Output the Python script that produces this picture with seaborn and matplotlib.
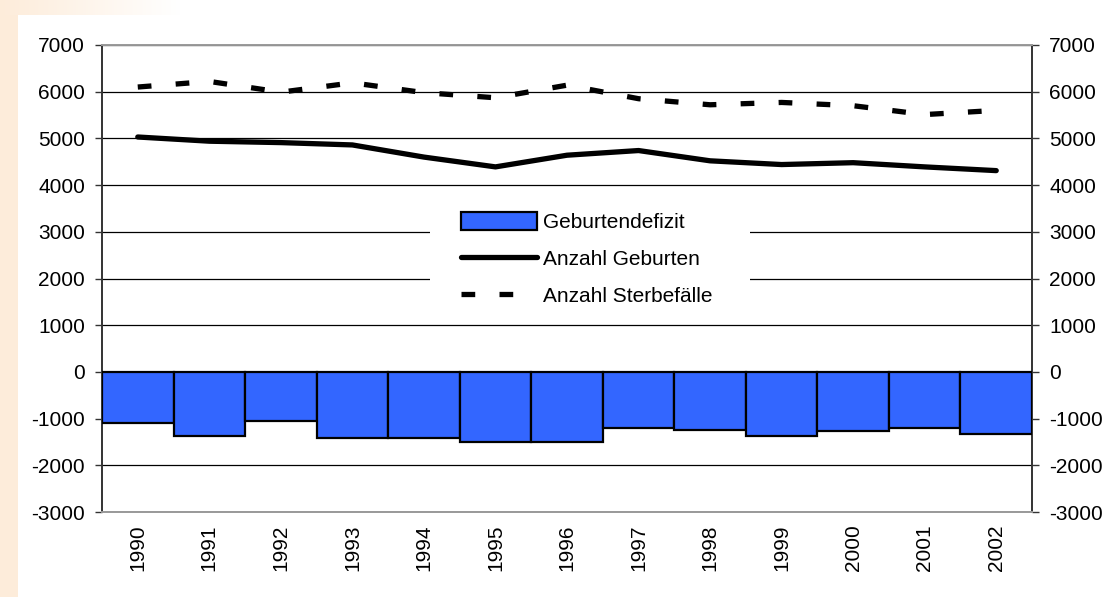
import numpy as np
import pandas as pd
import matplotlib
matplotlib.use("Agg")
import matplotlib.pyplot as plt
import seaborn as sns
from matplotlib.patches import Patch, Rectangle
from matplotlib.lines import Line2D

years = ["1990", "1991", "1992", "1993", "1994", "1995", "1996",
         "1997", "1998", "1999", "2000", "2001", "2002"]
geburtendefizit = [-1100, -1370, -1060, -1420, -1420, -1500, -1500,
                   -1200, -1240, -1370, -1275, -1200, -1325]
geburten = [5030, 4940, 4910, 4860, 4600, 4390, 4640,
            4740, 4520, 4440, 4480, 4390, 4310]
sterbefaelle = [6100, 6220, 5990, 6190, 5980, 5870, 6140,
                5850, 5720, 5770, 5700, 5510, 5600]
yticks = [-3000, -2000, -1000, 0, 1000, 2000, 3000, 4000, 5000, 6000, 7000]
labels = ["Geburtendefizit", "Anzahl Geburten", "Anzahl Sterbefälle"]

sns.set_theme(style="white")
plt.rcParams['font.family'] = ['Liberation Sans', 'DejaVu Sans']
plt.rcParams['text.color'] = 'black'
plt.rcParams['xtick.color'] = 'black'
plt.rcParams['ytick.color'] = 'black'

W, H = 1107, 597
fig = plt.figure(figsize=(W / 100, H / 100), dpi=100)

# background decoration (peach edge strips)
bg = fig.add_axes([0, 0, 1, 1], zorder=-10)
img = np.ones((H, W, 3))
peach = np.array([253, 236, 218]) / 255.0
img[:, :18, :] = peach
fade = np.clip(1 - np.arange(W) / 180.0, 0, 1)[None, :, None]
img[:15, :, :] = 1 - fade * (1 - peach)
bg.imshow(img, aspect='auto', extent=[0, 1, 0, 1])
bg.set_axis_off()

ax = fig.add_axes([102 / W, 1 - 512 / H, 930 / W, 467 / H])

df = pd.DataFrame({"Jahr": years, "Geburtendefizit": geburtendefizit,
                   "Geburten": geburten, "Sterbefaelle": sterbefaelle})

sns.barplot(data=df, x="Jahr", y="Geburtendefizit", color="#3366FF",
            saturation=1, width=1.0, edgecolor="black", linewidth=1.6,
            ax=ax, zorder=3)

pos = np.arange(len(years))
sns.lineplot(x=pos, y=df["Geburten"], color="black", linewidth=3.8,
             ax=ax, zorder=4)
sns.lineplot(x=pos, y=df["Sterbefaelle"], color="black", linewidth=3.8,
             ax=ax, zorder=4)
ln = ax.lines[-1]
ln.set_dashes([2.6, 4.6])
ln.set_dash_capstyle("butt")

ax.set_xlim(-0.5, len(years) - 0.5)
ax.set_ylim(-3000, 7000)
ax.set_yticks(yticks)
ax.set_yticklabels([str(v) for v in yticks])
ax.grid(axis='y', color='black', linewidth=0.9, zorder=0)
ax.set_axisbelow(True)
ax.set_xlabel("")
ax.set_ylabel("")
ax.tick_params(axis='x', rotation=90, labelsize=15, length=0, pad=9)
ax.tick_params(axis='y', labelsize=15, left=True, right=True,
               labelleft=True, labelright=True, length=4.8, width=1,
               color='#333333', pad=7.5, direction='out')
for s in ['left', 'right']:
    ax.spines[s].set_color('#333333')
    ax.spines[s].set_linewidth(1.4)
for s in ['top', 'bottom']:
    ax.spines[s].set_color('#999999')
    ax.spines[s].set_linewidth(1.4)

# white legend background area
ax.add_patch(Rectangle((328 / 930, (512 - 318) / 467), 320 / 930, 122 / 467,
                       transform=ax.transAxes, facecolor='white',
                       edgecolor='none', zorder=1))

handles = [Patch(facecolor="#3366FF", edgecolor="black", linewidth=1.6),
           Line2D([], [], color="black", linewidth=3.8),
           Line2D([], [], color="black", linewidth=3.8, dashes=[2.6, 4.6],
                  dash_capstyle="butt")]
leg = ax.legend(handles, labels, loc='center left',
                bbox_to_anchor=((461 - 102) / 930, (512 - 259) / 467),
                fontsize=15, frameon=False, handlelength=3.65,
                handleheight=0.95, handletextpad=0.3, labelspacing=0.8,
                borderpad=0, borderaxespad=0)
leg.set_zorder(5)

fig.savefig("out.png", dpi=100)
